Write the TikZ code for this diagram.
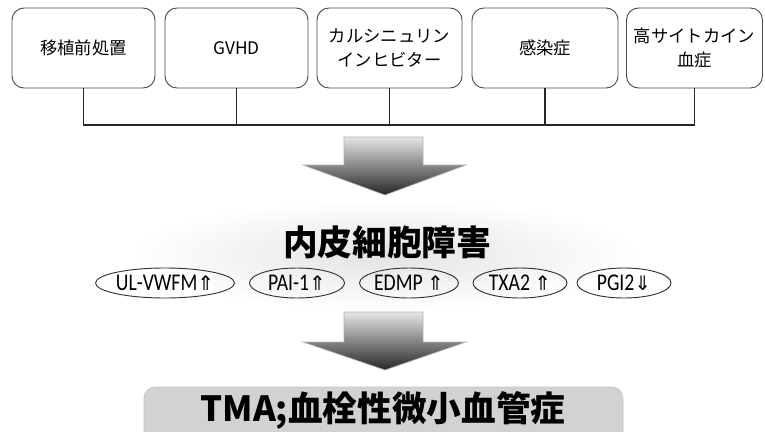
\documentclass[tikz,border=0pt]{standalone}
\usepackage{fontspec}
\setmainfont{Carlito}
\newfontfamily\jp{Noto Sans CJK JP}
\newfontfamily\arw{DejaVu Sans}
\newfontfamily\cond[FakeStretch=0.82]{Carlito}
\newcommand{\upar}{{\arw\fontsize{15}{15}\selectfont⇑}}
\newcommand{\dnar}{{\arw\fontsize{15}{15}\selectfont⇓}}
\usetikzlibrary{shapes.geometric}
\tikzset{
  causebox/.style={draw=gray!60!black, line width=0.7pt, rounded corners=9pt, minimum height=80*0.75pt, align=center, font=\jp\fontsize{13}{17.5}\selectfont, inner sep=0pt},
  marker/.style={draw=black!80, line width=0.7pt, ellipse, minimum height=30*0.75pt, inner sep=0pt, font=\cond\fontsize{18}{18}\selectfont},
  bigarrow/.style={draw=gray!60, line width=0.5pt, top color=gray!20, bottom color=black!85},
  link/.style={draw=black!85, line width=0.8pt}
}
\begin{document}
\begin{tikzpicture}[x=0.75pt,y=-0.75pt]
\useasboundingbox (0,0) rectangle (765,432);
\fill[white] (0,0) rectangle (765,432);
% cause boxes
\node[causebox, minimum width=143*0.75pt] (b1) at (83.5,48) {移植前処置};
\node[causebox, minimum width=143*0.75pt] (b2) at (236.5,48) {GVHD};
\node[causebox, minimum width=145*0.75pt] (b3) at (389.5,48) {カルシニュリン\\インヒビター};
\node[causebox, minimum width=146*0.75pt] (b4) at (545,48) {感染症};
\node[causebox, minimum width=136*0.75pt] (b5) at (694.5,48) {高サイトカイン\\血症};
\coordinate (hl) at (0,125);
\draw[link] (b1.south) -- (b1.south |- hl) -- (b5.south |- hl) -- (b5.south);
\foreach \b in {b2,b3,b4} \draw[link] (\b.south) -- (\b.south |- hl);
% arrow 1
\path[bigarrow] (344,137) -- (423,137) -- (423,165) -- (466,165) -- (385,195) -- (303,165) -- (344,165) -- cycle;
% halo
\shade[inner color=gray!22, outer color=white] (385,255) ellipse [x radius=255, y radius=55];
\node[font=\jp\bfseries\fontsize{26}{30}\selectfont] (endo) at (387,242) {内皮細胞障害};
% markers
\node[marker, minimum width=132*0.75pt] (m1) at (165,283) {UL-VWFM\upar};
\node[marker, minimum width=95*0.75pt] (m2) at (297,283) {PAI-1\upar};
\node[marker, minimum width=98*0.75pt] (m3) at (409,283) {EDMP \upar};
\node[marker, minimum width=94*0.75pt] (m4) at (520,283) {TXA2 \upar};
\node[marker, minimum width=94*0.75pt] (m5) at (624,283) {PGI2\dnar};
% arrow 2
\path[bigarrow] (344,312) -- (423,312) -- (423,342) -- (466,342) -- (385,370) -- (303,342) -- (344,342) -- cycle;
% result box
\path[fill=gray!35, draw=gray!45, rounded corners=8pt] (144,445) -- (144,387) -- (623,387) -- (623,445);
\node[font=\jp\bfseries\fontsize{26}{30}\selectfont] (tma) at (383,410) {TMA;血栓性微小血管症};
\end{tikzpicture}
\end{document}
